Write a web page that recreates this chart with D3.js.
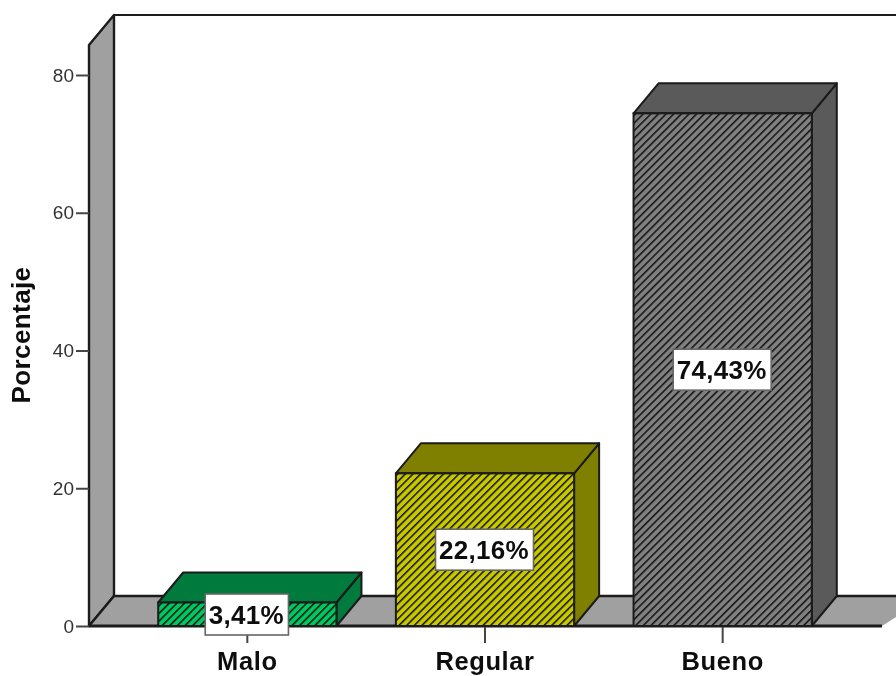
<!DOCTYPE html>
<html><head><meta charset="utf-8">
<script src="https://cdn.jsdelivr.net/npm/d3@7/dist/d3.min.js"></script>
<style>html,body{margin:0;padding:0;background:#fff;overflow:hidden}svg{display:block}
text{font-family:"Liberation Sans",Arial,sans-serif}</style></head>
<body><svg id="c" width="896" height="676"></svg>
<script>
const categories=["Malo","Regular","Bueno"];
const values=[3.41,22.16,74.43];
const valueLabels=["3,41%","22,16%","74,43%"];
const frontColors=["#00C862","#C8C800","#808080"];
const sideColors=["#007A3D","#808000","#5A5A5A"];
const yTicks=[0,20,40,60,80];
const yTitle="Porcentaje";

const dx=25,dy=30,W=896;
const svg=d3.select("#c");
const x=d3.scaleBand().domain(categories).range([128.5,841.5]).paddingInner(.25).paddingOuter(.125);
const y=d3.scaleLinear().domain([0,80]).range([626,75]);
const defs=svg.append("defs");
frontColors.forEach((c,i)=>{
  const p=defs.append("pattern").attr("id","h"+i).attr("patternUnits","userSpaceOnUse")
    .attr("width",5.4).attr("height",5.4).attr("patternTransform","rotate(-45)");
  p.append("rect").attr("width",5.4).attr("height",5.4).attr("fill",c);
  p.append("rect").attr("width",5.4).attr("height",1.5).attr("fill","#111");
});
defs.append("filter").attr("id","soft").attr("x",0).attr("y",0).attr("width",1).attr("height",1)
  .append("feGaussianBlur").attr("stdDeviation",.45);
const g=svg.append("g").attr("filter","url(#soft)");
g.append("rect").attr("width",896).attr("height",676).attr("fill","#fff");
const ink="#1a1a1a";
const left=89,floorY=y(0),topBack=15;
// walls
g.append("path").attr("d",`M${left},${floorY}L${left},${topBack+dy}L${left+dx},${topBack}L${left+dx},${floorY-dy}Z`)
  .attr("fill","#A0A0A0").attr("stroke",ink).attr("stroke-width",2.4).attr("stroke-linejoin","round");
g.append("path").attr("d",`M${left},${floorY}L${left+dx},${floorY-dy}L${W+20},${floorY-dy}L${W+20},${floorY-dy+8}L882,${floorY}Z`)
  .attr("fill","#A0A0A0");
g.append("path").attr("d",`M${left},${floorY}L${left+dx},${floorY-dy}L${W+2},${floorY-dy}`).attr("fill","none").attr("stroke",ink).attr("stroke-width",2.4);
g.append("path").attr("d",`M${left+dx},${topBack}L${W+2},${topBack}`).attr("stroke",ink).attr("stroke-width",2.2);
g.append("path").attr("d",`M${left},${floorY}L882,${floorY}`).attr("stroke",ink).attr("stroke-width",2.8);
// axes
const ya=g.append("g").attr("transform",`translate(${left},0)`).call(d3.axisLeft(y).tickValues(yTicks).tickSize(13).tickPadding(2));
const xa=g.append("g").attr("transform",`translate(0,${floorY})`).call(d3.axisBottom(x).tickSize(17));
ya.select(".domain").remove();xa.select(".domain").remove();
ya.selectAll("line").attr("stroke","#444").attr("stroke-width",2);
xa.selectAll("line").attr("stroke","#444").attr("stroke-width",2);
ya.selectAll("text").attr("font-size",19).attr("fill","#333").attr("font-family","Liberation Sans");
xa.selectAll("text").attr("font-size",25.5).attr("letter-spacing",".6px").attr("font-weight","bold").attr("fill","#111").attr("font-family","Liberation Sans").attr("y",44).attr("dy",0);
// bars
categories.forEach((c,i)=>{
  const X=x(c),B=x.bandwidth(),T=y(values[i]),Bt=y(0);
  const add=(d,f)=>g.append("path").attr("d",d).attr("fill",f).attr("stroke",ink).attr("stroke-width",2).attr("stroke-linejoin","round");
  add(`M${X+B},${Bt}L${X+B+dx},${Bt-dy}L${X+B+dx},${T-dy}L${X+B},${T}Z`,sideColors[i]);
  add(`M${X},${T}L${X+dx},${T-dy}L${X+B+dx},${T-dy}L${X+B},${T}Z`,sideColors[i]);
  g.append("rect").attr("x",X).attr("y",T).attr("width",B).attr("height",Bt-T).attr("fill",`url(#h${i})`).attr("stroke",ink).attr("stroke-width",2);
});
// labels
categories.forEach((c,i)=>{
  const cx=x(c)+x.bandwidth()/2, cy=i==0?614.5:(y(0)+y(values[i]))/2;
  const t=g.append("text").attr("x",cx-1).attr("y",cy).attr("text-anchor","middle").attr("dy","0.36em")
    .attr("font-size",26).attr("letter-spacing",".3px").attr("font-weight","bold").attr("fill","#111").text(valueLabels[i]);
  const bb=t.node().getBBox();
  g.append("rect").attr("x",bb.x-3.5).attr("y",cy-20.5).attr("width",bb.width+8).attr("height",41)
    .attr("fill","#fff").attr("stroke","#666").attr("stroke-width",1.6);
  t.raise();
});
// y title
g.append("text").attr("transform","translate(30,335) rotate(-90)").attr("text-anchor","middle")
  .attr("font-size",26).attr("letter-spacing",".4px").attr("font-weight","bold").attr("fill","#111").text(yTitle);
</script></body></html>
